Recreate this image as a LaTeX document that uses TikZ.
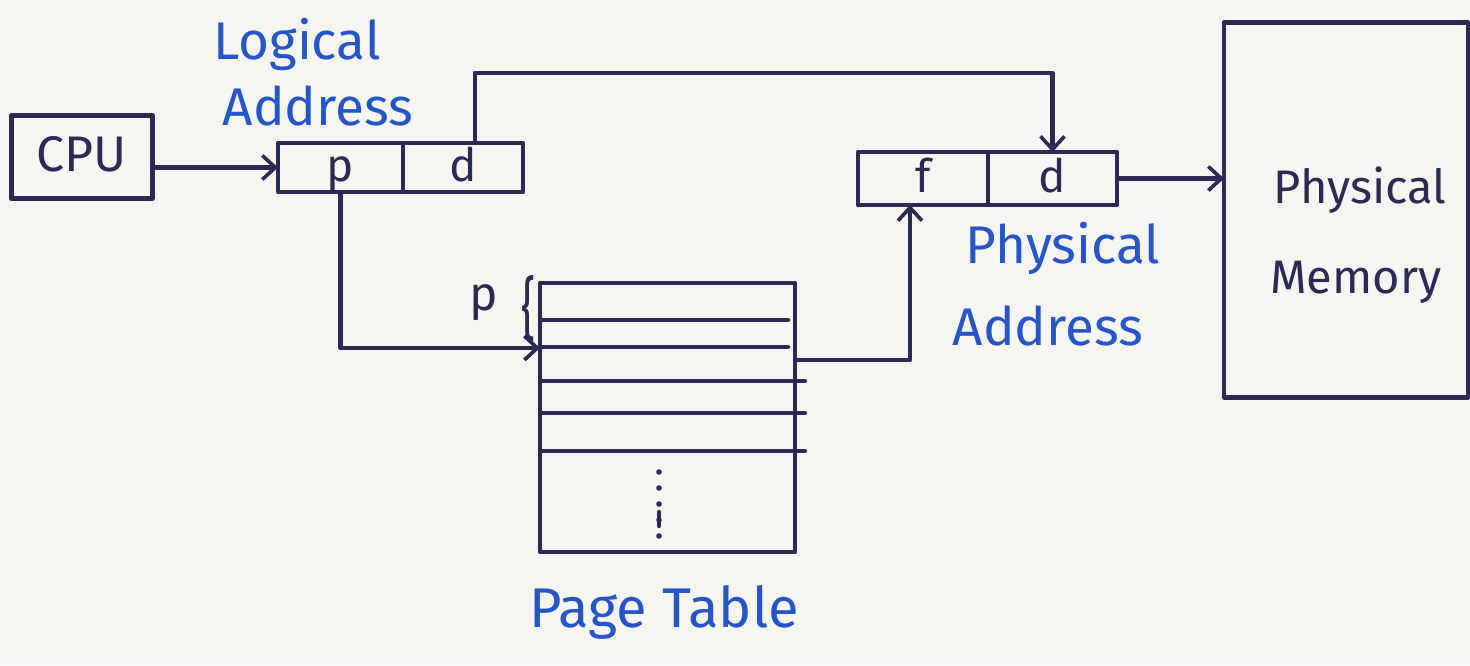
\documentclass[tikz,border=0pt]{standalone}
\usepackage{fontspec}
\setmainfont{Fira Sans}
\usetikzlibrary{arrows.meta,calc}
\definecolor{ink}{HTML}{2B2A55}
\definecolor{bluepen}{HTML}{2555C8}
\definecolor{paper}{HTML}{F5F6F1}
\tikzset{
  pen/.style={draw=ink, line width=4.2pt, line cap=round, line join=round},
  cell/.style={pen, rectangle, minimum height=49pt, inner sep=0pt, outer sep=0pt, text=ink,
    font=\fontsize{46}{50}\selectfont, text height=36pt, text depth=8pt},
  flow/.style={pen, -{Straight Barb[length=13pt,width=24pt,line width=3.6pt]}},
  bluelabel/.style={text=bluepen, font=\fontsize{53}{56}\selectfont, inner sep=0pt},
  blacklabel/.style={text=ink, font=\fontsize{47}{50}\selectfont, inner sep=0pt},
}
\begin{document}
\begin{tikzpicture}[x=1pt,y=-1pt]
  \fill[paper] (0,0) rectangle (1470,665);
  \useasboundingbox (0,0) rectangle (1470,665);

  % CPU
  \node[cell, minimum width=141pt, minimum height=83pt, font=\fontsize{50}{52}\selectfont] (cpu) at (82,157) {CPU};

  % logical address register: p | d
  \node[cell, minimum width=125pt] (lp) at (340.5,167.5) {p};
  \node[cell, minimum width=120pt, anchor=west] (ld) at (lp.east) {d};

  % physical address register: f | d
  \node[cell, minimum width=130pt, minimum height=53pt] (pf) at (923,178.5) {f};
  \node[cell, minimum width=129pt, minimum height=53pt, anchor=west] (pd) at (pf.east) {d};

  % physical memory
  \node[cell, minimum width=244pt, minimum height=375pt] (mem) at (1346,210) {};
  \node[blacklabel] (memA) at (1360,190) {Physical};
  \node[blacklabel] (memB) at (1356,282) {Memory};

  % page table
  \node[pen, rectangle, minimum width=255pt, minimum height=269pt, inner sep=0pt, outer sep=0pt] (pt) at (667.5,417.5) {};
  \foreach \yy/\nm/\len in {320/r1/248,347/r2/248,381/r3/265,413/r4/265,451/r5/265}{
    \coordinate (\nm) at (540,\yy);
    \draw[pen] (\nm) -- ++(\len,0);
  }
  % continuation dots
  \foreach \yy in {472,488,504,520,536}{
    \fill[ink] (659,\yy) circle (2.8pt);
  }
  \draw[pen] (659,512) -- (659,526);

  % entry marker
  \node[text=ink, font=\fontsize{48}{50}\selectfont, inner sep=0pt] (pmark) at (484,303) {p};
  \node[text=ink, font=\fontsize{44}{46}\selectfont, inner sep=0pt, yscale=1.55] (brace) at (529,309) {\{};

  % labels
  \node[bluelabel] (la1) at (297,44) {Logical};
  \node[bluelabel] (la2) at (318,106) {Address};
  \node[bluelabel] (pa1) at (1063,248) {Physical};
  \node[bluelabel] (pa2) at (1048,326) {Address};
  \node[bluelabel, font=\fontsize{56}{58}\selectfont] (ptl) at (664,612) {Page Table};

  % connectors
  \coordinate (top) at (0,73);
  \coordinate (pin) at (0,348);
  \coordinate (pout) at (0,360);
  \draw[flow] (cpu.east |- lp.west) -- (lp.west);
  \draw[flow] ([xshift=12pt]ld.north) |- (top -| pd.north) -- (pd.north);
  \draw[flow] (lp.south) |- (pin -| pt.west);
  \draw[flow] (pout -| pt.east) -| ([xshift=-13pt]pf.south);
  \draw[flow] (pd.east) -- (mem.west |- pd.east);
\end{tikzpicture}
\end{document}
